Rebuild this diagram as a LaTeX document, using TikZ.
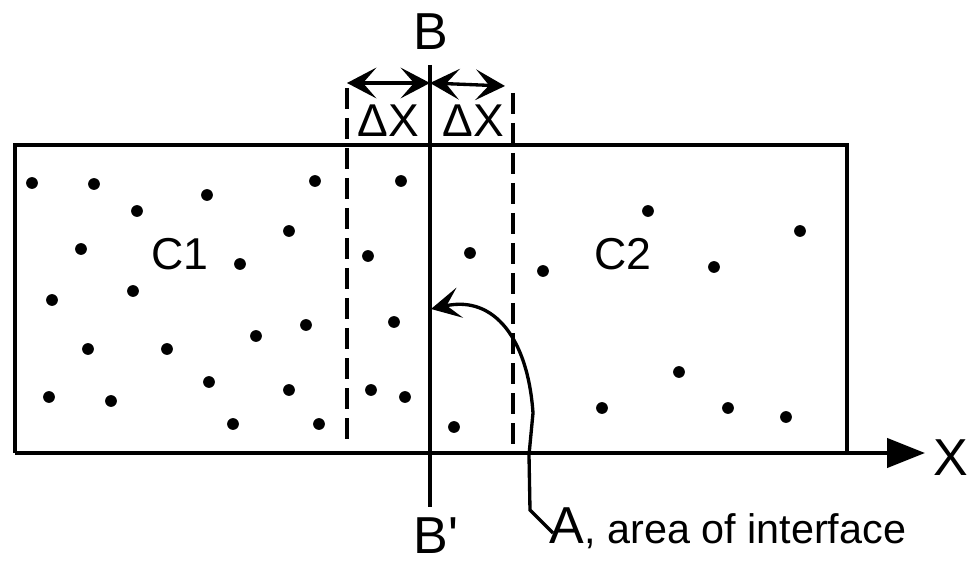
\documentclass[tikz,border=0pt]{standalone}
\usepackage{fontspec}
\setmainfont{Liberation Sans}
\newfontfamily\plainsans{Liberation Sans}
\usetikzlibrary{arrows.meta}
\begin{document}
\begin{tikzpicture}[x=0.75pt,y=-0.75pt,
  ln/.style={line width=2.5pt},
  big/.style={font=\fontsize{39}{39}\selectfont,inner sep=0pt,anchor=base},
  dxlbl/.style={font=\fontsize{34.5}{34.5}\selectfont,inner sep=0pt,anchor=base},
  clbl/.style={font=\fontsize{33.5}{33.5}\selectfont,inner sep=0pt,anchor=base},
  small/.style={font=\fontsize{31}{31}\selectfont,inner sep=0pt,anchor=base west},
  dashln/.style={line width=2.5pt,dash pattern=on 16pt off 6.5pt},
  dimarrow/.style={line width=2.5pt,{Stealth[length=22pt,width=23pt,inset=10pt]}-{Stealth[length=22pt,width=23pt,inset=10pt]}},
]
\useasboundingbox (0,0) rectangle (972,563);
% box and axis
\coordinate (o) at (15,453);
\coordinate (tl) at (15,145);
\coordinate (tr) at (847,145);
\coordinate (br) at (847,453);
\coordinate (xtip) at (925,453);
\draw[ln] (o) -- (tl) -- (tr) -- (br);
\draw[ln,-{Triangle[length=28.5pt,width=22pt]}] (o) -- (xtip);
\node (xl) [big] at (951,475) {X};
% interface line
\node (bt) [big] at (431,50) {B};
\node (bb) [big] at (436,553) {\plainsans B'};
\coordinate (btop) at (430,65);
\coordinate (bbot) at (430,507);
\draw[ln] (btop) -- (bbot);
% dashed lines
\coordinate (dl1) at (347,88);
\coordinate (dl2) at (347,447);
\coordinate (dr1) at (513,93);
\coordinate (dr2) at (513,453);
\draw[dashln] (dl1) -- (dl2);
\draw[dashln] (dr1) -- (dr2);
% dimension arrows
\coordinate (al) at (347,83);
\coordinate (am) at (430,83);
\coordinate (ar) at (505,86);
\draw[dimarrow] (al) -- (am);
\draw[dimarrow] (am) -- (ar);
\node (dx1) [dxlbl] at (388,137) {ΔX};
\node (dx2) [dxlbl] at (473,137) {ΔX};
% labels
\node (c1) [clbl] at (180,270) {C1};
\node (c2) [clbl] at (623,270) {C2};
% dots
\foreach \p in {(32,183),(94,184),(137,211),(207,195),(315,181),(81,249),(289,231),
  (240,264),(52,300),(133,291),(306,325),(256,336),(88,349),(167,349),(209,382),
  (289,390),(49,397),(111,401),(233,424),(319,424),
  (401,181),(368,256),(470,253),(394,322),(371,390),(405,397),(454,427),
  (648,211),(800,231),(543,271),(714,267),(679,372),(602,408),(728,408),(786,417)}
  \fill \p circle[radius=4.4pt];
% area label and arrow
\node (la) [big,anchor=base west] at (549,543) {A};
\node (lt) [small] at (la.base east) {, area of interface};
\coordinate (aend) at (553,533);
\coordinate (atip) at (431,309);
\draw[ln,-{Stealth[length=22pt,width=23pt,inset=10pt]}] (aend) -- (530,510) -- (529,455) -- (533,413) .. controls (528,340) and (495,295) .. (atip);
\end{tikzpicture}
\end{document}
